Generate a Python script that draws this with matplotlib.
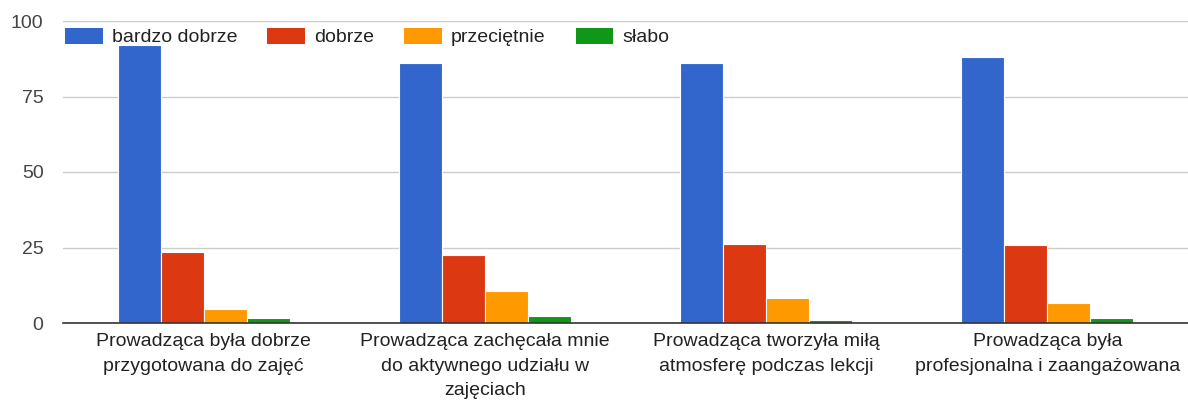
import numpy as np
import matplotlib.pyplot as plt
from matplotlib.patches import Rectangle

plt.rcParams['font.family'] = ['Liberation Sans', 'DejaVu Sans']

# Dane
categories = [
    'Prowadząca była dobrze\nprzygotowana do zajęć',
    'Prowadząca zachęcała mnie\ndo aktywnego udziału w\nzajęciach',
    'Prowadząca tworzyła miłą\natmosferę podczas lekcji',
    'Prowadząca była\nprofesjonalna i zaangażowana',
]
series_names = ['bardzo dobrze', 'dobrze', 'przeciętnie', 'słabo']
bardzo_dobrze = [92, 86, 86, 88]
dobrze = [23.5, 22.5, 26, 25.8]
przecietnie = [4.5, 10.5, 8.3, 6.7]
slabo = [1.8, 2.3, 0.9, 1.8]
colors = ['#3366cc', '#dc3912', '#ff9900', '#109618']
yticks = [0, 25, 50, 75, 100]

values = [bardzo_dobrze, dobrze, przecietnie, slabo]

fig = plt.figure(figsize=(11.88, 4.0), dpi=100)
ax = fig.add_axes([63 / 1188, 1 - 323 / 400, 1 - 63 / 1188, (323 - 21) / 400])

x = np.arange(len(categories))
bw = 0.153
offsets = (np.arange(4) - 1.5) * bw
handles = []
for i, (name, vals) in enumerate(zip(series_names, values)):
    ax.bar(x + offsets[i], vals, width=bw, color=colors[i],
           edgecolor='white', linewidth=0.8, label=name, zorder=3)
    handles.append(Rectangle((0, 0), 1, 1, facecolor=colors[i], edgecolor='none'))

ax.set_xlim(-0.5, 3.5)
ax.set_ylim(0, 100)
ax.set_yticks(yticks)
ax.set_xticks(x)
ax.set_xticklabels(categories, fontsize=14, color='#222222', linespacing=1.6)
ax.tick_params(axis='y', length=0, pad=14, labelsize=14, labelcolor='#444444')
ax.tick_params(axis='x', length=0, pad=7)
ax.grid(axis='y', color='#cccccc', linewidth=1, zorder=0)
for s in ['top', 'right', 'left']:
    ax.spines[s].set_visible(False)
ax.spines['bottom'].set_color('#333333')
ax.spines['bottom'].set_linewidth(1.2)
ax.spines['bottom'].set_zorder(4)

fig.legend(handles, series_names, loc='upper left',
           bbox_to_anchor=(65 / 1188, 1 - 28 / 400), ncol=4, frameon=False,
           fontsize=14, handlelength=1.95, handleheight=0.85,
           handletextpad=0.45, columnspacing=1.55, borderpad=0,
           borderaxespad=0, labelcolor='#222222')

fig.savefig('out.png', dpi=100)
